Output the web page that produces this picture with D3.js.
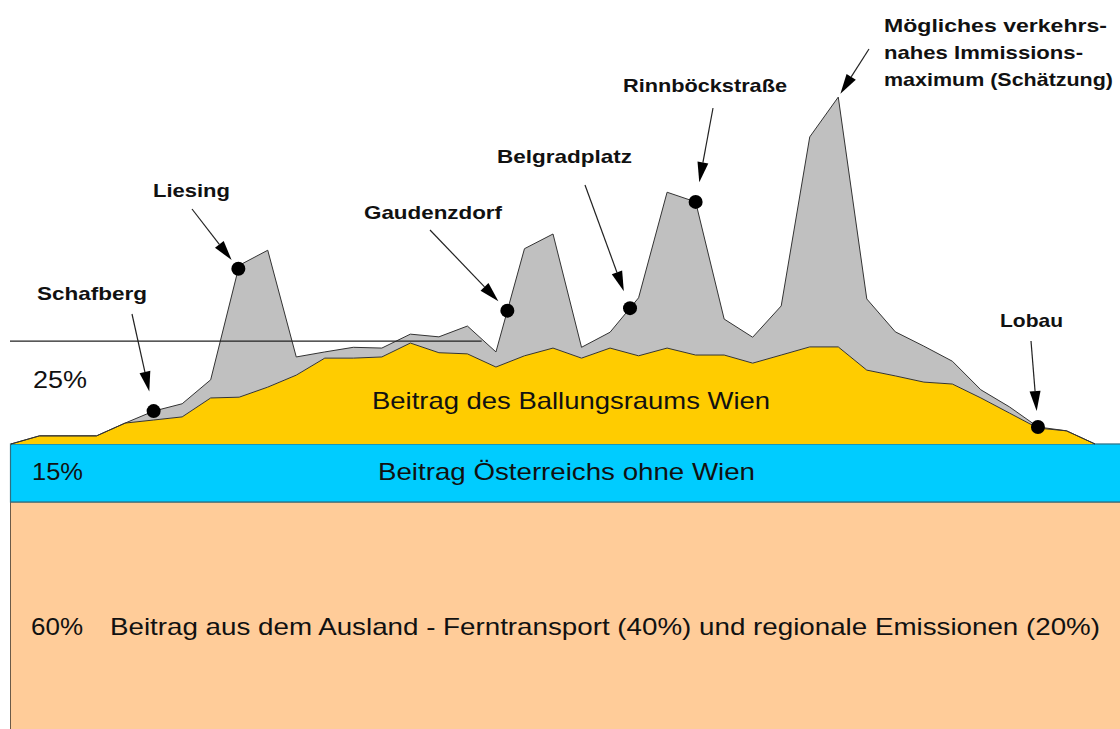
<!DOCTYPE html>
<html>
  <head>
    <meta charset="utf-8">
    <title>Immissionsbeiträge Wien</title>
    <style>
      body { margin: 0; background: #fff; }
      svg { display: block; }
      text { font-family: "Liberation Sans", Arial, sans-serif; fill: #111; }
    </style>
  </head>
  <body>
    <div id="chart"></div>
    <script src="https://cdn.jsdelivr.net/npm/d3@7"></script>
    <script>

        var width = 1120;
        var height = 729;

        // shares of the background bands (percent)
        var shareAusland = 60;
        var shareOesterreich = 15;
        var shareWienNominal = 25;
        var refLevel = 101.6;        // thin horizontal reference line

        // profile along the cross section (percentage points above 75 %)
        var wien = [0, 2.1, 2.1, 2.1, 5.4, 6.2, 7.0, 11.9, 12.1, 14.7, 17.8, 22.2, 22.2,
                    22.5, 26.1, 23.6, 23.3, 19.9, 22.8, 24.8, 22.2, 24.8, 22.8, 24.8, 23.0,
                    23.0, 20.9, 23.0, 25.1, 25.1, 19.1, 17.6, 16.0, 15.5, 11.9, 8.0, 4.1, 3.4, 0];
        var lokal = [0, 0, 0, 0, 0, 2.3, 3.4, 4.7, 34.1, 35.4, 4.7, 1.6, 2.8,
                     2.3, 2.3, 4.1, 7.2, 3.9, 27.7, 29.5, 2.8, 4.1, 15.0, 40.3, 39.6,
                     9.3, 6.7, 12.7, 54.3, 64.6, 18.4, 11.4, 9.3, 5.9, 2.1, 1.6, 0.3, 0, 0];

        // measuring stations and where they lie on the section
        var stations = ["Schafberg", "Liesing", "Gaudenzdorf", "Belgradplatz", "Rinnböckstraße", "Lobau"];
        var stationPos = [5, 7.97, 17.4, 21.7, 24, 36];
        var maxLabel = ["Mögliches verkehrs-", "nahes Immissions-", "maximum (Schätzung)"];
        var maxPos = 29;

        var x = d3.scaleLinear().domain([0, wien.length - 1]).range([11, 1095]);
        var y = d3.scaleLinear().domain([0, 100]).range([734, 347.3]);
        var base = shareAusland + shareOesterreich;

        var svg = d3.select('#chart')
          .append('svg')
          .attr('width', width)
          .attr('height', height);

        // background bands
        svg.append('rect')
          .attr('x', 10.5).attr('y', y(shareAusland))
          .attr('width', width).attr('height', y(0) - y(shareAusland))
          .attr('fill', '#ffcc99').attr('stroke', '#6b5a48').attr('stroke-width', 1);
        svg.append('rect')
          .attr('x', 10.5).attr('y', y(base))
          .attr('width', width).attr('height', y(shareAusland) - y(base))
          .attr('fill', '#00ccff').attr('stroke', '#2e6f82').attr('stroke-width', 1.2);

        var idx = d3.range(wien.length);
        function yellowTop(i) { return base + wien[i]; }
        function greyTop(i) { return base + wien[i] + lokal[i]; }
        function topAt(p) {
          var i0 = Math.min(Math.floor(p), wien.length - 2), t = p - i0;
          return greyTop(i0) + (greyTop(i0 + 1) - greyTop(i0)) * t;
        }

        var greyArea = d3.area()
          .x(function(i) { return x(i); })
          .y0(function(i) { return y(yellowTop(i)); })
          .y1(function(i) { return y(greyTop(i)); });
        var yellowArea = d3.area()
          .x(function(i) { return x(i); })
          .y0(y(base))
          .y1(function(i) { return y(yellowTop(i)); });

        svg.append('path').attr('d', greyArea(idx)).attr('fill', '#c0c0c0');
        svg.append('path').attr('d', yellowArea(idx)).attr('fill', '#ffcc00');

        svg.append('path')
          .attr('d', d3.line().x(function(i) { return x(i); }).y(function(i) { return y(greyTop(i)); })(idx))
          .attr('fill', 'none').attr('stroke', '#333').attr('stroke-width', 1);
        svg.append('path')
          .attr('d', d3.line().x(function(i) { return x(i); }).y(function(i) { return y(yellowTop(i)); })(idx))
          .attr('fill', 'none').attr('stroke', '#333').attr('stroke-width', 1);

        // reference line
        svg.append('line')
          .attr('x1', 10).attr('x2', x(16.5))
          .attr('y1', y(refLevel)).attr('y2', y(refLevel))
          .attr('stroke', '#222').attr('stroke-width', 1.2);

        // band texts
        var bandText = [
          { t: "25%", x: 33, y: 388, w: 54 },
          { t: "Beitrag des Ballungsraums Wien", x: 372, y: 409, w: 398 },
          { t: "15%", x: 32, y: 480, w: 51 },
          { t: "Beitrag Österreichs ohne Wien", x: 378, y: 480, w: 377 },
          { t: "60%", x: 31, y: 635, w: 52 },
          { t: "Beitrag aus dem Ausland - Ferntransport (40%) und regionale Emissionen (20%)", x: 110, y: 635, w: 990 }
        ];
        svg.selectAll('text.band')
          .data(bandText)
          .enter()
          .append('text')
          .attr('class', 'band')
          .attr('x', function(d) { return d.x; })
          .attr('y', function(d) { return d.y; })
          .attr('textLength', function(d) { return d.w; })
          .attr('lengthAdjust', 'spacingAndGlyphs')
          .style('font-size', '24px')
          .text(function(d) { return d.t; });

        // station annotations: label, arrow start, gap before marker
        var layout = [
          { lx: 37, ly: 300, w: 110, ax: 132, ay: 314, gap: 20 },
          { lx: 153, ly: 197, w: 77, ax: 192, ay: 209, gap: 11 },
          { lx: 364, ly: 219, w: 138, ax: 430, ay: 230, gap: 13 },
          { lx: 497, ly: 163, w: 135, ax: 585, ay: 185, gap: 18 },
          { lx: 623, ly: 92, w: 164, ax: 713, ay: 108, gap: 20 },
          { lx: 1000, ly: 327, w: 63, ax: 1031, ay: 341, gap: 16 }
        ];

        function arrow(x1, y1, x2, y2, gap) {
          var dx = x2 - x1, dy = y2 - y1, len = Math.sqrt(dx * dx + dy * dy);
          var ux = dx / len, uy = dy / len;
          var tx = x2 - ux * gap, ty = y2 - uy * gap;
          var hl = 20, hw = 5.5;
          var bx = tx - ux * hl, by = ty - uy * hl;
          svg.append('line')
            .attr('x1', x1).attr('y1', y1).attr('x2', bx).attr('y2', by)
            .attr('stroke', '#222').attr('stroke-width', 1.2);
          svg.append('path')
            .attr('d', 'M' + tx + ',' + ty +
              'L' + (bx - uy * hw) + ',' + (by + ux * hw) +
              'L' + (bx + uy * hw) + ',' + (by - ux * hw) + 'Z')
            .attr('fill', '#000');
        }

        stations.forEach(function(name, k) {
          var L = layout[k];
          var mx = x(stationPos[k]), my = y(topAt(stationPos[k]));
          arrow(L.ax, L.ay, mx, my, L.gap);
          svg.append('circle')
            .attr('cx', mx).attr('cy', my).attr('r', 7)
            .attr('fill', '#000');
          svg.append('text')
            .attr('x', L.lx).attr('y', L.ly)
            .attr('textLength', L.w)
            .attr('lengthAdjust', 'spacingAndGlyphs')
            .style('font-size', '18.5px').style('font-weight', 'bold')
            .text(name);
        });

        // estimated maximum
        arrow(869, 49, x(maxPos), y(greyTop(maxPos)), 4);
        var maxW = [223, 199, 229];
        maxLabel.forEach(function(line, k) {
          svg.append('text')
            .attr('x', 884).attr('y', 32 + k * 27)
            .attr('textLength', maxW[k])
            .attr('lengthAdjust', 'spacingAndGlyphs')
            .style('font-size', '18.5px').style('font-weight', 'bold')
            .text(line);
        });

    </script>
  </body>
</html>
